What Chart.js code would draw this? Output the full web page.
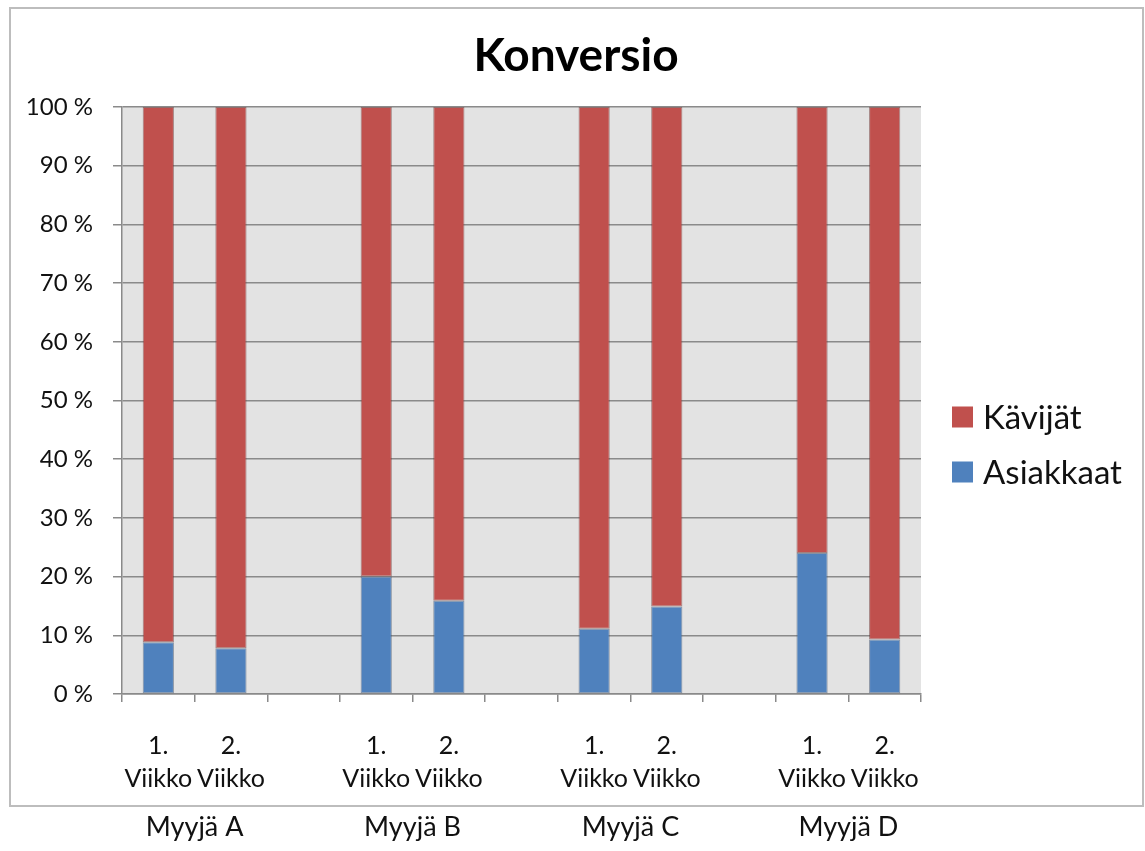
<!DOCTYPE html>
<html lang="fi">
<head>
<meta charset="utf-8">
<title>Konversio</title>
<script src="https://cdn.jsdelivr.net/npm/chart.js@4.4.1/dist/chart.umd.min.js"></script>
<style>
  html, body { margin: 0; padding: 0; background: #ffffff; }
  #wrap { position: relative; width: 1145px; height: 851px; }
</style>
</head>
<body>
<div id="wrap"><canvas id="chart" width="1145" height="851"></canvas></div>
<script>
// Week slots per seller; empty slots keep the gaps between sellers.
const weekLabels = [
  ["1.", "Viikko"], ["2.", "Viikko"], "",
  ["1.", "Viikko"], ["2.", "Viikko"], "",
  ["1.", "Viikko"], ["2.", "Viikko"], "",
  ["1.", "Viikko"], ["2.", "Viikko"]
];
const sellers = ["Myyjä A", "Myyjä B", "Myyjä C", "Myyjä D"];
// Index of the first week slot of each seller.
const sellerStart = [0, 3, 6, 9];

// Share of customers (Asiakkaat) and of visitors (Kävijät), in percent.
const asiakkaat = [8.8, 7.8, null, 20.0, 15.9, null, 11.1, 14.9, null, 24.0, 9.3];
const kavijat   = [91.2, 92.2, null, 80.0, 84.1, null, 88.9, 85.1, null, 76.0, 90.7];

const yTicks = [0, 10, 20, 30, 40, 50, 60, 70, 80, 90, 100];
const chartTitle = "Konversio";

const FONT = "Lato, 'Open Sans', 'DejaVu Sans', sans-serif";
const BLUE = "#4F81BD";
const RED = "#C0504D";
const GRID = "#8a8a8a";

// Grey plot area, outer frame, title, legend and seller names.
const decorations = {
  id: "decorations",
  beforeDraw(chart) {
    const { ctx, chartArea: a } = chart;
    ctx.save();
    ctx.fillStyle = "#e3e3e3";
    ctx.fillRect(a.left, a.top, a.right - a.left, a.bottom - a.top);
    ctx.restore();
  },
  afterDraw(chart) {
    const { ctx } = chart;
    const x = chart.scales.x;
    ctx.save();
    // frame around the chart
    ctx.strokeStyle = "#bdbdbd";
    ctx.lineWidth = 2;
    ctx.strokeRect(10, 8, 1133, 798);

    // title, centred on the whole frame
    ctx.fillStyle = "#000";
    ctx.font = "bold 46px " + FONT;
    ctx.textAlign = "center";
    ctx.textBaseline = "middle";
    ctx.fillText(chartTitle, 576, 56);

    // legend
    const items = [
      { text: "Kävijät", color: RED, y: 417 },
      { text: "Asiakkaat", color: BLUE, y: 472 }
    ];
    ctx.font = "33px " + FONT;
    ctx.textBaseline = "middle";
    ctx.textAlign = "left";
    items.forEach(it => {
      ctx.fillStyle = it.color;
      ctx.fillRect(952, it.y - 10.5, 21, 21);
      ctx.fillStyle = "#111";
      ctx.fillText(it.text, 983, it.y + 1);
    });

    // seller names under the week labels
    ctx.font = "27px " + FONT;
    ctx.textAlign = "center";
    ctx.fillStyle = "#111";
    sellers.forEach((name, i) => {
      const s = sellerStart[i];
      const cx = (x.getPixelForValue(s) + x.getPixelForValue(s + 1)) / 2;
      ctx.fillText(name, cx, 827);
    });
    ctx.restore();
  }
};

new Chart(document.getElementById("chart"), {
  type: "bar",
  data: {
    labels: weekLabels,
    datasets: [
      {
        label: "Asiakkaat",
        data: asiakkaat,
        backgroundColor: BLUE,
        borderColor: "rgba(60,80,110,0.55)",
        borderWidth: 1,
        borderSkipped: false
      },
      {
        label: "Kävijät",
        data: kavijat,
        backgroundColor: RED,
        borderColor: "rgba(110,50,48,0.55)",
        borderWidth: 1,
        borderSkipped: false
      }
    ]
  },
  plugins: [decorations],
  options: {
    responsive: false,
    animation: false,
    barPercentage: 0.43,
    categoryPercentage: 1,
    layout: { padding: { top: 107, left: 10, right: 224, bottom: 57 } },
    plugins: {
      legend: { display: false },
      tooltip: { enabled: false },
      title: { display: false }
    },
    scales: {
      x: {
        stacked: true,
        afterFit(scale) { scale.height = 100; },
        grid: {
          display: true,
          drawOnChartArea: false,
          drawTicks: true,
          offset: true,
          tickLength: 8,
          color: GRID,
          lineWidth: 1.5
        },
        border: { display: true, color: GRID, width: 1.5 },
        ticks: {
          color: "#111",
          padding: 27,
          maxRotation: 0,
          autoSkip: false,
          font: { family: FONT, size: 25, lineHeight: 1.32 }
        }
      },
      y: {
        stacked: true,
        min: 0,
        max: 100,
        afterFit(scale) { scale.width = 112; },
        afterBuildTicks(scale) { scale.ticks = yTicks.map(v => ({ value: v })); },
        grid: {
          color: GRID,
          lineWidth: 1.5,
          drawTicks: true,
          tickLength: 9
        },
        border: { display: true, color: GRID, width: 1.5 },
        ticks: {
          color: "#111",
          padding: 20,
          font: { family: FONT, size: 24 },
          callback: v => v + " %"
        }
      }
    }
  }
});
</script>
</body>
</html>
